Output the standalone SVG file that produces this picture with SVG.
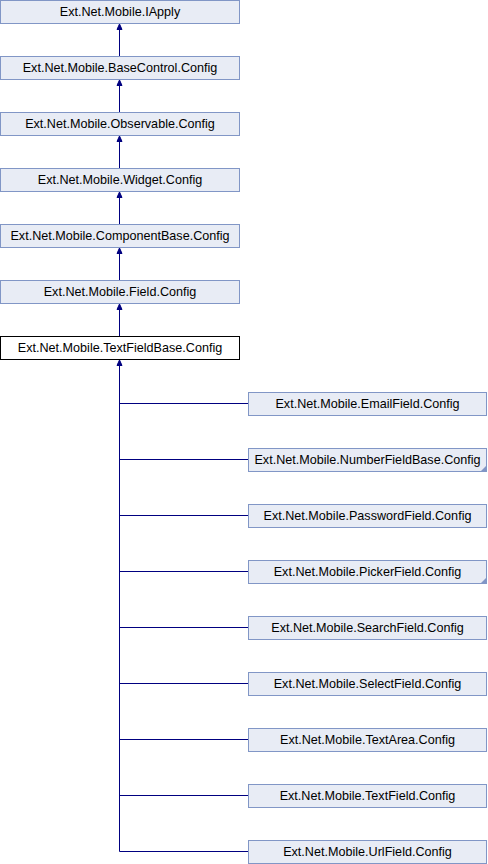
<svg xmlns="http://www.w3.org/2000/svg" width="488" height="864" viewBox="0 0 488 864">
<style>
.n rect{fill:#E8ECF5;stroke:#8196C6;stroke-width:1}
.n.cur rect{fill:#FFFFFF;stroke:#000000}
.n text{font-family:"Liberation Sans",Arial,sans-serif;font-size:12.6px;fill:#000;text-anchor:middle}
.c line,.c polyline{stroke:#000080;stroke-width:1;fill:none}
.c polygon{fill:#000080;stroke:#000080;stroke-width:1}
.tri{fill:#8196C6}
</style>
<rect width="488" height="864" fill="#fff"/>
<g class="c">
<line x1="119.5" y1="57" x2="119.5" y2="25"/><polygon points="119.5,24 117,29.5 122,29.5"/>
<line x1="119.5" y1="113" x2="119.5" y2="81"/><polygon points="119.5,80 117,85.5 122,85.5"/>
<line x1="119.5" y1="169" x2="119.5" y2="137"/><polygon points="119.5,136 117,141.5 122,141.5"/>
<line x1="119.5" y1="225" x2="119.5" y2="193"/><polygon points="119.5,192 117,197.5 122,197.5"/>
<line x1="119.5" y1="281" x2="119.5" y2="249"/><polygon points="119.5,248 117,253.5 122,253.5"/>
<line x1="119.5" y1="337" x2="119.5" y2="305"/><polygon points="119.5,304 117,309.5 122,309.5"/>
<polygon points="119.5,360 117,365.5 122,365.5"/>
<polyline points="119.5,361 119.5,851.5 248,851.5"/>
<line x1="119.5" y1="403.5" x2="248" y2="403.5"/>
<line x1="119.5" y1="459.5" x2="248" y2="459.5"/>
<line x1="119.5" y1="515.5" x2="248" y2="515.5"/>
<line x1="119.5" y1="571.5" x2="248" y2="571.5"/>
<line x1="119.5" y1="627.5" x2="248" y2="627.5"/>
<line x1="119.5" y1="683.5" x2="248" y2="683.5"/>
<line x1="119.5" y1="739.5" x2="248" y2="739.5"/>
<line x1="119.5" y1="795.5" x2="248" y2="795.5"/>
</g>
<g id="iapply" class="n"><rect x="0.5" y="0.5" width="239" height="23"/><text x="120" y="16">Ext.Net.Mobile.IApply</text></g>
<g id="basecontrol" class="n"><rect x="0.5" y="56.5" width="239" height="23"/><text x="120" y="72">Ext.Net.Mobile.BaseControl.Config</text></g>
<g id="observable" class="n"><rect x="0.5" y="112.5" width="239" height="23"/><text x="120" y="128">Ext.Net.Mobile.Observable.Config</text></g>
<g id="widget" class="n"><rect x="0.5" y="168.5" width="239" height="23"/><text x="120" y="184">Ext.Net.Mobile.Widget.Config</text></g>
<g id="componentbase" class="n"><rect x="0.5" y="224.5" width="239" height="23"/><text x="120" y="240">Ext.Net.Mobile.ComponentBase.Config</text></g>
<g id="field" class="n"><rect x="0.5" y="280.5" width="239" height="23"/><text x="120" y="296">Ext.Net.Mobile.Field.Config</text></g>
<g id="textfieldbase" class="n cur"><rect x="0.5" y="336.5" width="239" height="23"/><text x="120" y="352">Ext.Net.Mobile.TextFieldBase.Config</text></g>
<g id="emailfield" class="n"><rect x="248.5" y="392.5" width="238" height="23"/><text x="367.5" y="408">Ext.Net.Mobile.EmailField.Config</text></g>
<g id="numberfieldbase" class="n"><rect x="248.5" y="448.5" width="238" height="23"/><text x="367.5" y="464">Ext.Net.Mobile.NumberFieldBase.Config</text><polygon class="tri" points="487,465 487,472 480,472"/></g>
<g id="passwordfield" class="n"><rect x="248.5" y="504.5" width="238" height="23"/><text x="367.5" y="520">Ext.Net.Mobile.PasswordField.Config</text></g>
<g id="pickerfield" class="n"><rect x="248.5" y="560.5" width="238" height="23"/><text x="367.5" y="576">Ext.Net.Mobile.PickerField.Config</text><polygon class="tri" points="487,577 487,584 480,584"/></g>
<g id="searchfield" class="n"><rect x="248.5" y="616.5" width="238" height="23"/><text x="367.5" y="632">Ext.Net.Mobile.SearchField.Config</text></g>
<g id="selectfield" class="n"><rect x="248.5" y="672.5" width="238" height="23"/><text x="367.5" y="688">Ext.Net.Mobile.SelectField.Config</text></g>
<g id="textarea" class="n"><rect x="248.5" y="728.5" width="238" height="23"/><text x="367.5" y="744">Ext.Net.Mobile.TextArea.Config</text></g>
<g id="textfield" class="n"><rect x="248.5" y="784.5" width="238" height="23"/><text x="367.5" y="800">Ext.Net.Mobile.TextField.Config</text></g>
<g id="urlfield" class="n"><rect x="248.5" y="840.5" width="238" height="23"/><text x="367.5" y="856">Ext.Net.Mobile.UrlField.Config</text></g>
</svg>
